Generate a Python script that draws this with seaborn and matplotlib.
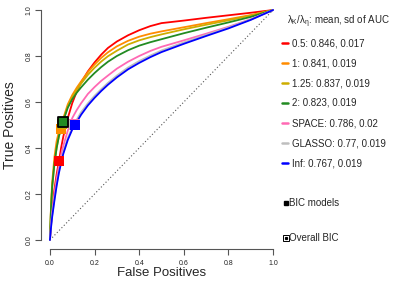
import matplotlib
matplotlib.use("Agg")
import matplotlib.pyplot as plt
from matplotlib.lines import Line2D
import pandas as pd
import seaborn as sns

# ROC curves (false positive rate, true positive rate)
methods = ["0.5", "1", "1.25", "2", "SPACE", "GLASSO", "Inf"]
auc_mean = [0.846, 0.841, 0.837, 0.823, 0.786, 0.77, 0.767]
auc_sd = [0.017, 0.019, 0.019, 0.019, 0.02, 0.019, 0.019]
colors = ["#FF0000", "#FF8C00", "#CDAD00", "#228B22", "#FF69B4", "#BEBEBE", "#0000FF"]

fpr_red = [0, 0.005, 0.01, 0.02, 0.03, 0.04, 0.05, 0.06, 0.08, 0.1, 0.12, 0.14, 0.17, 0.2,
           0.23, 0.26, 0.3, 0.35, 0.4, 0.45, 0.5, 0.6, 0.7, 0.8, 0.9, 1.0]
tpr_red = [0, 0.07, 0.13, 0.22, 0.285, 0.34, 0.40, 0.45, 0.53, 0.595, 0.645, 0.685, 0.733, 0.772,
           0.806, 0.835, 0.863, 0.89, 0.912, 0.93, 0.943, 0.954, 0.966, 0.977, 0.988, 1.0]

fpr_orange = [0, 0.005, 0.01, 0.02, 0.03, 0.04, 0.05, 0.06, 0.08, 0.1, 0.12, 0.14, 0.17, 0.2,
              0.23, 0.26, 0.3, 0.35, 0.4, 0.45, 0.5, 0.6, 0.7, 0.8, 0.9, 1.0]
tpr_orange = [0, 0.15, 0.25, 0.36, 0.43, 0.47, 0.495, 0.53, 0.59, 0.63, 0.662, 0.69, 0.73, 0.763,
              0.792, 0.816, 0.842, 0.866, 0.884, 0.897, 0.907, 0.925, 0.943, 0.96, 0.978, 1.0]

fpr_yellow = [0, 0.005, 0.01, 0.02, 0.03, 0.04, 0.055, 0.06, 0.08, 0.1, 0.12, 0.14, 0.17, 0.2,
              0.23, 0.26, 0.3, 0.35, 0.4, 0.45, 0.5, 0.6, 0.7, 0.8, 0.9, 1.0]
tpr_yellow = [0, 0.14, 0.23, 0.33, 0.40, 0.45, 0.505, 0.525, 0.58, 0.62, 0.652, 0.68, 0.718, 0.749,
              0.776, 0.799, 0.823, 0.85, 0.868, 0.882, 0.894, 0.916, 0.936, 0.955, 0.976, 1.0]

fpr_green = [0, 0.005, 0.01, 0.02, 0.03, 0.04, 0.058, 0.08, 0.1, 0.12, 0.14, 0.17, 0.2,
             0.23, 0.26, 0.3, 0.35, 0.4, 0.45, 0.5, 0.6, 0.7, 0.8, 0.9, 1.0]
tpr_green = [0, 0.14, 0.23, 0.33, 0.40, 0.45, 0.513, 0.575, 0.612, 0.64, 0.664, 0.697, 0.726,
             0.752, 0.775, 0.80, 0.825, 0.845, 0.86, 0.873, 0.899, 0.923, 0.946, 0.97, 1.0]

fpr_pink = [0, 0.005, 0.01, 0.02, 0.03, 0.04, 0.05, 0.06, 0.08, 0.1, 0.12, 0.14, 0.17, 0.2,
            0.23, 0.26, 0.3, 0.35, 0.4, 0.45, 0.5, 0.6, 0.7, 0.8, 0.9, 1.0]
tpr_pink = [0, 0.07, 0.12, 0.20, 0.265, 0.32, 0.37, 0.41, 0.475, 0.53, 0.565, 0.595, 0.635, 0.665,
            0.692, 0.715, 0.745, 0.775, 0.80, 0.822, 0.84, 0.868, 0.897, 0.927, 0.96, 1.0]

fpr_gray = [0, 0.005, 0.01, 0.02, 0.03, 0.04, 0.05, 0.06, 0.08, 0.1, 0.12, 0.14, 0.17, 0.2,
            0.23, 0.26, 0.3, 0.35, 0.4, 0.45, 0.5, 0.6, 0.7, 0.8, 0.9, 1.0]
tpr_gray = [0, 0.06, 0.107, 0.178, 0.243, 0.298, 0.343, 0.383, 0.443, 0.488, 0.523, 0.556, 0.594,
            0.627, 0.656, 0.683, 0.715, 0.75, 0.778, 0.802, 0.824, 0.859, 0.892, 0.924, 0.959, 1.0]

fpr_blue = [0, 0.005, 0.01, 0.02, 0.03, 0.04, 0.05, 0.06, 0.08, 0.1, 0.112, 0.14, 0.17, 0.2,
            0.23, 0.26, 0.3, 0.35, 0.4, 0.45, 0.5, 0.6, 0.7, 0.8, 0.9, 1.0]
tpr_blue = [0, 0.055, 0.10, 0.17, 0.235, 0.29, 0.335, 0.375, 0.435, 0.48, 0.50, 0.545, 0.585,
            0.618, 0.648, 0.675, 0.707, 0.742, 0.77, 0.795, 0.817, 0.853, 0.887, 0.92, 0.957, 1.0]

curves_fpr = [fpr_red, fpr_orange, fpr_yellow, fpr_green, fpr_pink, fpr_gray, fpr_blue]
curves_tpr = [tpr_red, tpr_orange, tpr_yellow, tpr_green, tpr_pink, tpr_gray, tpr_blue]

# BIC-selected models, one per method; the overall BIC pick is method "2"
bic_fpr = [0.04, 0.05, 0.055, 0.06, 0.105, 0.11, 0.112]
bic_tpr = [0.343, 0.483, 0.505, 0.513, 0.505, 0.50, 0.50]
overall_bic = "2"

rows = []
for m, xs, ys in zip(methods, curves_fpr, curves_tpr):
    for x, y in zip(xs, ys):
        rows.append({"method": m, "fpr": x, "tpr": y})
roc = pd.DataFrame(rows)
bic = pd.DataFrame({"method": methods, "fpr": bic_fpr, "tpr": bic_tpr})

sns.set_style("white")
plt.rcParams["font.family"] = ["Liberation Sans", "DejaVu Sans"]
plt.rcParams["mathtext.default"] = "regular"

fig = plt.figure(figsize=(4.02, 2.87), dpi=100)
ax = fig.add_axes([41 / 402, 1 - 249.2 / 287, 241 / 402, 248.4 / 287])

ax.plot([0, 1], [0, 1], linestyle=(0, (1, 2)), color="#555555", lw=0.8)
palette = dict(zip(methods, colors))
sns.lineplot(data=roc, x="fpr", y="tpr", hue="method", hue_order=methods,
             palette=palette, sort=False, estimator=None, lw=1.3, ax=ax, legend=False)
sns.scatterplot(data=bic, x="fpr", y="tpr", hue="method", hue_order=methods,
                palette=palette, marker="s", s=55, linewidth=0, ax=ax, legend=False, zorder=5)
ob = bic[bic["method"] == overall_bic]
ax.scatter(ob["fpr"], ob["tpr"], marker="s", s=55, facecolor=palette[overall_bic],
           edgecolor="black", linewidth=1.3, zorder=6)

ax.set_xlim(-0.04, 1.04)
ax.set_ylim(-0.04, 1.04)
ticks = [0, 0.2, 0.4, 0.6, 0.8, 1.0]
ax.set_xticks(ticks)
ax.set_yticks(ticks)
ax.set_xticklabels([f"{t:.1f}" for t in ticks])
ax.set_yticklabels([f"{t:.1f}" for t in ticks], rotation=90, va="center")
for s in ["top", "right"]:
    ax.spines[s].set_visible(False)
for s in ["left", "bottom"]:
    ax.spines[s].set_bounds(0, 1)
    ax.spines[s].set_color("#555555")
    ax.spines[s].set_linewidth(0.8)
ax.tick_params(length=4, width=0.8, color="#555555", labelsize=5, pad=4, labelcolor="#222222")
ax.tick_params(axis="y", pad=2)
ax.tick_params(axis="both", which="both", bottom=True, left=True)
ax.set_xlabel("False Positives", fontsize=9.5, labelpad=0)
ax.set_ylabel("True Positives", fontsize=10, labelpad=6)

# legend drawn at the right side of the figure
def fx(px):
    return px / 402

def fy(py):
    return 1 - py / 287

fs = 7
fig.text(fx(287), fy(22), r"$\lambda_K/\lambda_\eta$: mean, sd of AUC", fontsize=fs, va="center")
for i, m in enumerate(methods):
    y = 43 + 20 * i
    fig.add_artist(Line2D([fx(282), fx(288.5)], [fy(y), fy(y)], color=colors[i], lw=1.8))
    fig.text(fx(292), fy(y), f"{m}: {auc_mean[i]}, {auc_sd[i]}", fontsize=fs, va="center")
fig.add_artist(Line2D([fx(286)], [fy(203)], marker="s", ms=3.5, color="black", lw=0))
fig.text(fx(289.5), fy(203), "BIC models", fontsize=fs, va="center")
fig.add_artist(Line2D([fx(286)], [fy(238)], marker="s", ms=4, mfc="white", mec="black", mew=0.7, lw=0))
fig.add_artist(Line2D([fx(286)], [fy(238)], marker="s", ms=1.3, color="black", lw=0))
fig.text(fx(289.5), fy(238), "Overall BIC", fontsize=fs, va="center")

fig.savefig("out.png", dpi=100)
